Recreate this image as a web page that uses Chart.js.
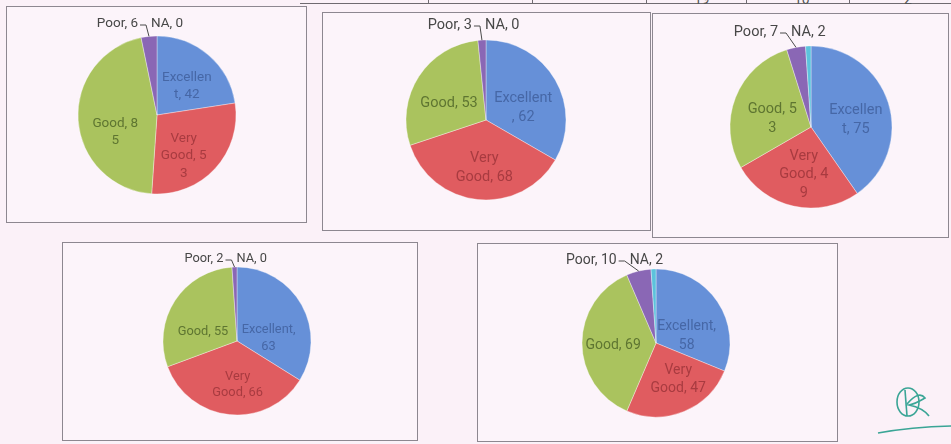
<!DOCTYPE html>
<html>
<head>
<meta charset="utf-8">
<script src="https://cdn.jsdelivr.net/npm/chart.js@4.4.1/dist/chart.umd.min.js"></script>
<style>
  body { margin:0; width:951px; height:444px; background:#fbf1f8; position:relative; overflow:hidden; font-family:Roboto, sans-serif; }
  .box { position:absolute; box-sizing:border-box; border:1px solid #8d8790; background:#fcf4fa; }
  .box canvas { position:absolute; left:0; top:0; }
  .rule { position:absolute; background:#6f6a70; }
  .cell { position:absolute; top:-9px; font-size:14px; color:#555; }
</style>
</head>
<body>
<div class="rule" style="left:300px;top:3px;width:651px;height:1px"></div>
<div class="rule" style="left:428px;top:0;width:1px;height:4px"></div>
<div class="rule" style="left:532px;top:0;width:1px;height:4px"></div>
<div class="rule" style="left:646px;top:0;width:1px;height:4px"></div>
<div class="rule" style="left:746px;top:0;width:1px;height:4px"></div>
<div class="rule" style="left:849px;top:0;width:1px;height:4px"></div>
<div class="cell" style="left:694px">19</div>
<div class="cell" style="left:794px">10</div>
<div class="cell" style="left:904px">2</div>
<canvas id="sign" width="110" height="64" style="position:absolute;left:841px;top:380px"></canvas>
<script>
// survey categories, same for every pie
const categories = ['Excellent', 'Very Good', 'Good', 'Poor', 'NA'];

// responses per pie
const pie1Values = [42, 53, 85, 6, 0];
const pie2Values = [62, 68, 53, 3, 0];
const pie3Values = [75, 49, 53, 7, 2];
const pie4Values = [63, 66, 55, 2, 0];
const pie5Values = [58, 47, 69, 10, 2];

const sliceColors = ['#6690d8', '#e05c60', '#aac35e', '#8a67b5', '#5cc2dc'];
const textColors = ['#4667a6', '#a83b40', '#5e7531', '#474747', '#474747'];

// box = outer frame, cx/cy/r = pie in page coords, wrap = label width in em,
// nudge = shift of the three inside labels (Excel "best fit" placement)
const pies = [
  { values: pie1Values, box: [6, 6, 301, 217], cx: 157, cy: 115, r: 79, font: 13.5, wrap: 3.76, poorDx: -11, poorDy: 12,
    nudge: [[0, 6], [-7, 10], [4, 14]] },
  { values: pie2Values, box: [322, 12, 329, 219], cx: 486, cy: 120, r: 80, font: 14.5, wrap: 4.03, poorDx: -10, poorDy: 15,
    nudge: [[-3, 11], [3, 2], [2, 9]] },
  { values: pie3Values, box: [652, 13, 297, 225], cx: 811, cy: 127, r: 81, font: 14.5, wrap: 3.76, poorDx: -18, poorDy: 14,
    nudge: [[0, 7], [3, 2], [5, 9]] },
  { values: pie4Values, box: [62, 242, 356, 199], cx: 237, cy: 341, r: 74, font: 12.8, wrap: 4.45, poorDx: -11, poorDy: 8,
    nudge: [[-6, 18], [5, 1], [2, 14]] },
  { values: pie5Values, box: [477, 243, 361, 199], cx: 656, cy: 343, r: 74, font: 14, wrap: 4.45, poorDx: -22, poorDy: 9,
    nudge: [[-5, 17], [6, -3], [0, 2]] }
];

function wrapLabel(ctx, text, maxW) {
  const words = text.split(' ');
  const lines = [];
  let line = '';
  words.forEach((w, wi) => {
    const isValue = wi === words.length - 1;
    const trial = line ? line + ' ' + w : w;
    if (ctx.measureText(trial).width <= maxW) { line = trial; return; }
    if (!isValue && line && ctx.measureText(w).width <= maxW) { lines.push(line); line = w; return; }
    let cur = line ? line + ' ' : '';
    for (const ch of w) {
      if (ctx.measureText(cur + ch).width > maxW && cur.trim()) { lines.push(cur.trimEnd()); cur = ''; }
      cur += ch;
    }
    line = cur;
  });
  if (line) lines.push(line);
  return lines;
}

const pieLabels = {
  id: 'pieLabels',
  afterDatasetsDraw(chart, args, opts) {
    const ctx = chart.ctx;
    const arcs = chart.getDatasetMeta(0).data;
    const vals = chart.data.datasets[0].data;
    const fs = opts.font;
    ctx.save();
    ctx.font = fs + 'px Roboto';
    ctx.textBaseline = 'middle';
    arcs.forEach((arc, i) => {
      if (i > 2) return;
      const mid = (arc.startAngle + arc.endAngle) / 2;
      const d = arc.outerRadius * 0.58;
      const x = arc.x + Math.cos(mid) * d + opts.nudge[i][0];
      const y = arc.y + Math.sin(mid) * d + opts.nudge[i][1];
      const lines = wrapLabel(ctx, chart.data.labels[i] + ', ' + vals[i], fs * opts.wrap);
      const lh = fs * 1.3;
      ctx.fillStyle = textColors[i];
      ctx.textAlign = 'center';
      lines.forEach((l, k) => ctx.fillText(l, x, y + (k - (lines.length - 1) / 2) * lh));
    });
    // Poor and NA sit outside the top of the pie
    const poor = arcs[3];
    const mid = (poor.startAngle + poor.endAngle) / 2;
    const ex = poor.x + Math.cos(mid) * poor.outerRadius;
    const ey = poor.y + Math.sin(mid) * poor.outerRadius;
    const ly = poor.y - poor.outerRadius - opts.poorDy;
    const right = ex + opts.poorDx;
    ctx.fillStyle = textColors[3];
    ctx.textAlign = 'right';
    ctx.fillText(chart.data.labels[3] + ', ' + vals[3], right, ly);
    ctx.textAlign = 'left';
    ctx.fillText(chart.data.labels[4] + ', ' + vals[4], right + 13, ly);
    ctx.strokeStyle = '#4a4a4a';
    ctx.lineWidth = 1;
    ctx.beginPath();
    ctx.moveTo(right + 2, ly + 1);
    ctx.lineTo(right + Math.min(8, ex - right - 2), ly + 1);
    ctx.lineTo(ex, ey);
    ctx.stroke();
    ctx.restore();
  }
};

pies.forEach((p, n) => {
  const [bx, by, bw, bh] = p.box;
  const div = document.createElement('div');
  div.className = 'box';
  div.style.left = bx + 'px'; div.style.top = by + 'px';
  div.style.width = bw + 'px'; div.style.height = bh + 'px';
  const cv = document.createElement('canvas');
  const W = bw - 2, H = bh - 2;
  cv.width = W; cv.height = H;
  cv.style.width = W + 'px'; cv.style.height = H + 'px';
  div.appendChild(cv);
  document.body.appendChild(div);

  const lx = p.cx - bx - 1, ly = p.cy - by - 1;
  const hx = Math.min(lx, W - lx), hy = Math.min(ly, H - ly);

  new Chart(cv, {
    type: 'pie',
    data: {
      labels: categories,
      datasets: [{
        data: p.values,
        backgroundColor: sliceColors,
        borderColor: 'rgba(255,255,255,0.35)',
        borderWidth: 1,
        radius: p.r
      }]
    },
    options: {
      responsive: false,
      animation: false,
      events: [],
      layout: { padding: { left: lx - hx, right: W - lx - hx, top: ly - hy, bottom: H - ly - hy } },
      plugins: {
        legend: { display: false },
        tooltip: { enabled: false },
        pieLabels: { font: p.font, wrap: p.wrap, poorDx: p.poorDx, poorDy: p.poorDy, nudge: p.nudge }
      }
    },
    plugins: [pieLabels]
  });
});

// reviewer's initials in the corner
const s = document.getElementById('sign').getContext('2d');
s.strokeStyle = '#3aa596';
s.lineWidth = 1.6;
s.beginPath(); s.ellipse(67, 22, 11, 14, 0, 0, Math.PI * 2); s.stroke();
s.beginPath(); s.moveTo(64, 10); s.lineTo(66, 36); s.stroke();
s.beginPath(); s.moveTo(66, 24); s.quadraticCurveTo(78, 10, 84, 18); s.quadraticCurveTo(74, 24, 68, 25);
s.quadraticCurveTo(82, 28, 88, 36); s.stroke();
s.beginPath(); s.moveTo(37, 53); s.quadraticCurveTo(70, 47, 110, 46); s.stroke();
</script>
</body>
</html>
